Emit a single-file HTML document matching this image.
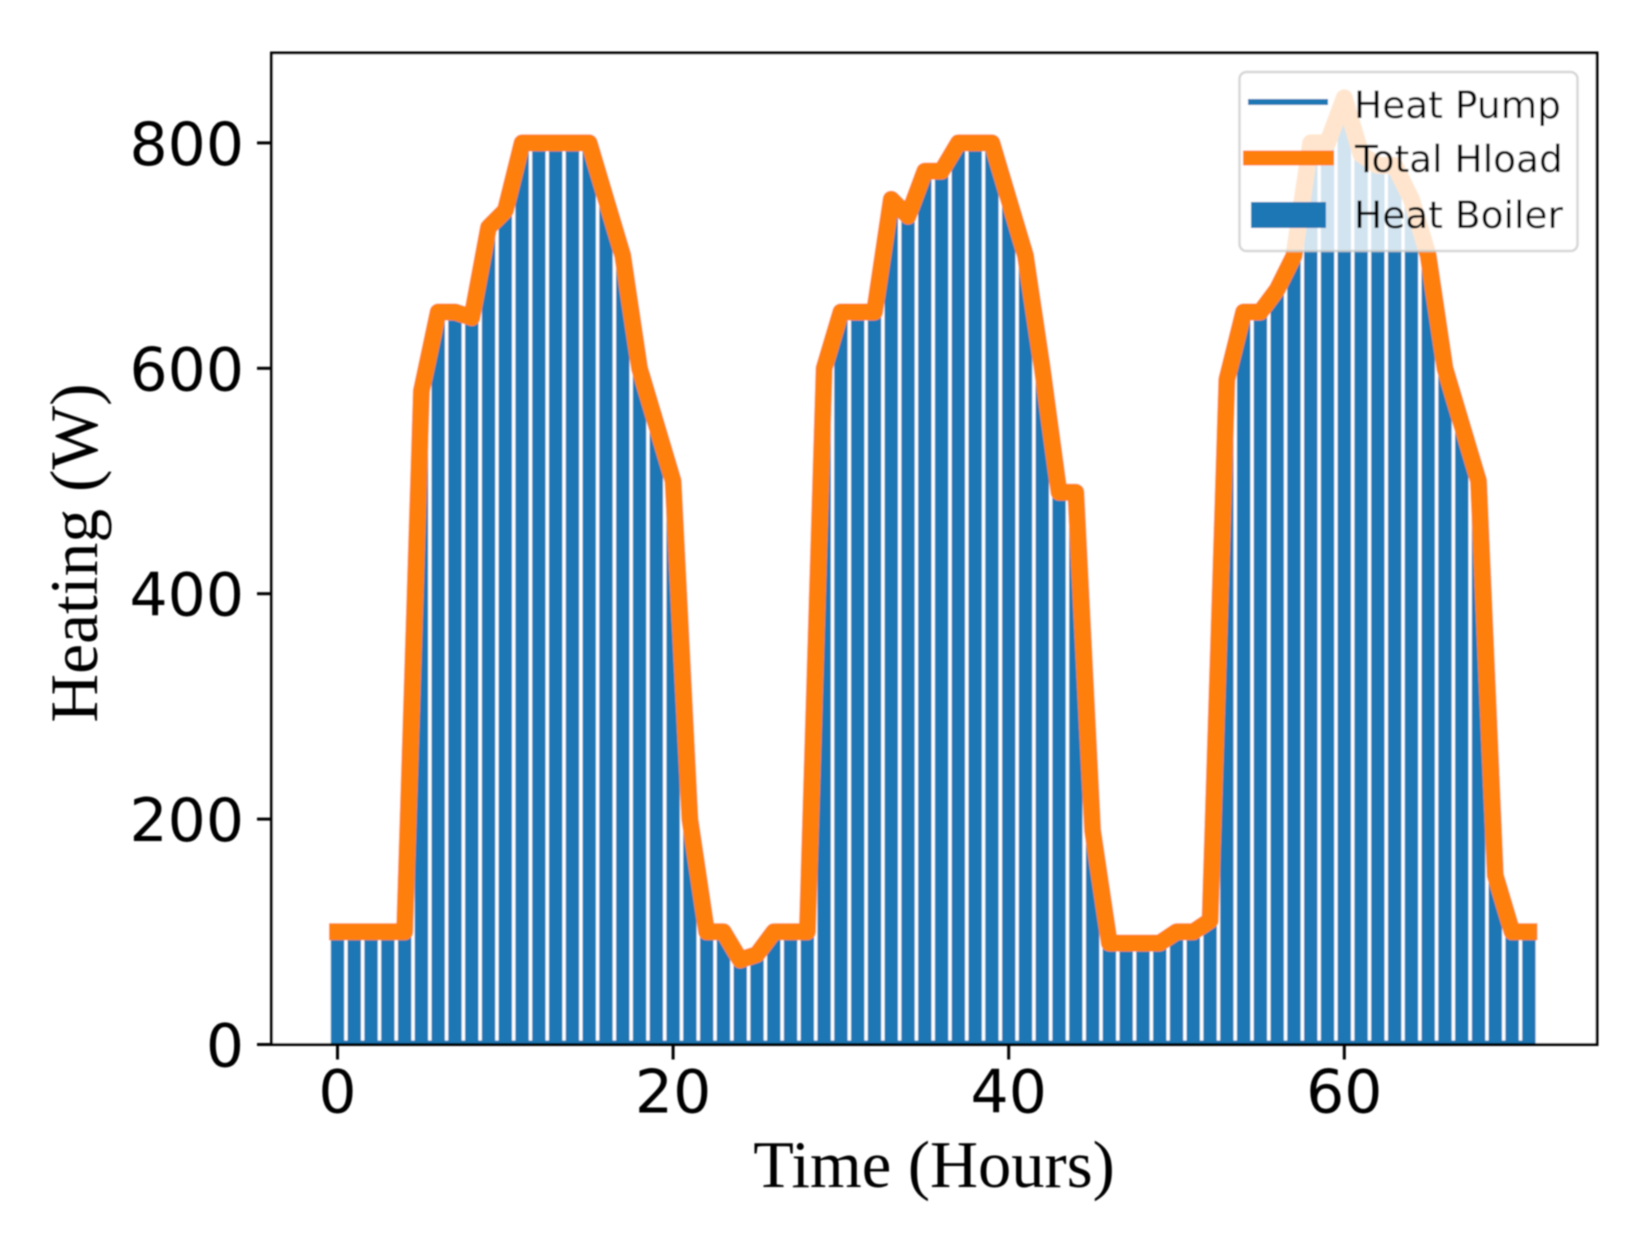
<!DOCTYPE html>
<html lang="en">
<head>
<meta charset="utf-8">
<title>Heating over time</title>
<style>
html,body{margin:0;padding:0;background:#fff;width:1637px;height:1239px;overflow:hidden}
svg{display:block}
.tick{font-family:"DejaVu Sans",sans-serif;font-size:60px;fill:#000}
.legend-text{font-family:"DejaVu Sans",sans-serif;font-size:37.5px;fill:#000}
.axis-title{font-family:"Liberation Serif",serif;fill:#000}
</style>
</head>
<body>
<svg id="chart" xmlns="http://www.w3.org/2000/svg" width="1637" height="1239" viewBox="0 0 1637 1239">
  <defs>
    <filter id="soft" x="-2%" y="-2%" width="104%" height="104%"><feGaussianBlur stdDeviation="0.8"/></filter>
    <clipPath id="plot-clip"><rect x="271.500" y="53" width="1325.500" height="991.500"/></clipPath>
  </defs>
  <g filter="url(#soft)">
    <rect x="271.500" y="53" width="1325.500" height="991.500" fill="#fff"/>
    <g id="bars"></g>
    <g clip-path="url(#plot-clip)">
      <path id="pump-line" fill="none" stroke="#1f77b4" stroke-width="8" stroke-linecap="square" stroke-linejoin="round"/>
      <path id="load-line" fill="none" stroke="#ff7f0e" stroke-width="17" stroke-linecap="square" stroke-linejoin="round"/>
    </g>
    <g id="ticks"></g>
    <rect x="271.500" y="53" width="1325.500" height="991.500" fill="none" stroke="#000" stroke-width="3"/>
    <g>
      <rect x="1239.500" y="72" width="338" height="179" rx="7" fill="#fff" fill-opacity="0.8" stroke="#ccc" stroke-opacity="0.8" stroke-width="2.500"/>
      <line x1="1248" y1="102" x2="1328" y2="102" stroke="#1f77b4" stroke-width="6"/>
      <text class="legend-text" x="1354" y="118">Heat Pump</text>
      <line x1="1243" y1="158" x2="1334" y2="158" stroke="#ff7f0e" stroke-width="15"/>
      <text class="legend-text" x="1355" y="172">Total Hload</text>
      <rect x="1251" y="202" width="75" height="26" fill="#1f77b4"/>
      <text class="legend-text" x="1354" y="228">Heat Boiler</text>
    </g>
    <text class="axis-title" style="font-size:66.5px" x="934" y="1187" text-anchor="middle">Time (Hours)</text>
    <text class="axis-title" style="font-size:67.5px" transform="translate(97 553) rotate(-90)" text-anchor="middle">Heating (W)</text>
  </g>
</svg>
<script>
const totalHload = [100,100,100,100,100,580,650,650,645,725,740,800,800,800,800,800,750,700,600,550,500,200,100,100,75,80,100,100,100,600,650,650,650,750,735,775,775,800,800,800,750,700,600,490,490,190,90,90,90,90,100,100,110,590,650,650,670,700,800,800,840,790,780,780,750,700,600,550,500,150,100,100];
const heatBoiler = [100,100,100,100,100,580,650,650,645,725,740,800,800,800,800,800,750,700,600,550,500,200,100,100,75,80,100,100,100,600,650,650,650,750,735,775,775,800,800,800,750,700,600,490,490,190,90,90,90,90,100,100,110,590,650,650,670,700,800,800,840,790,780,780,750,700,600,550,500,150,100,100];
const heatPump = [0,0,0,0,0,0,0,0,0,0,0,0,0,0,0,0,0,0,0,0,0,0,0,0,0,0,0,0,0,0,0,0,0,0,0,0,0,0,0,0,0,0,0,0,0,0,0,0,0,0,0,0,0,0,0,0,0,0,0,0,0,0,0,0,0,0,0,0,0,0,0,0];
const xTickValues = [0,20,40,60];
const yTickValues = [0,200,400,600,800];

const SVG_NS = 'http://www.w3.org/2000/svg';
const xScale = function (h) { return 337.5 + h * 16.78; };
const yScale = function (v) { return 1044.5 - v * 1.127; };
const barWidth = 0.8;

const barsGroup = document.getElementById('bars');
heatBoiler.forEach(function (v, h) {
  const bar = document.createElementNS(SVG_NS, 'rect');
  
  
  bar.setAttribute('x', xScale(h - barWidth / 2));
  bar.setAttribute('y', yScale(v));
  bar.setAttribute('width', xScale(barWidth) - xScale(0));
  bar.setAttribute('height', yScale(0) - yScale(v));
  bar.setAttribute('fill', '#1f77b4');
  barsGroup.appendChild(bar);
});

function linePath(values) {
  return values.map(function (v, h) {
    return (h === 0 ? 'M' : 'L') + xScale(h) + ' ' + yScale(v);
  }).join(' ');
}
document.getElementById('pump-line').setAttribute('d', linePath(heatPump));
document.getElementById('load-line').setAttribute('d', linePath(totalHload));

const ticksGroup = document.getElementById('ticks');
xTickValues.forEach(function (t) {
  const mark = document.createElementNS(SVG_NS, 'line');
  
  
  mark.setAttribute('x1', xScale(t));
  mark.setAttribute('x2', xScale(t));
  mark.setAttribute('y1', yScale(0));
  mark.setAttribute('y2', yScale(0) + 15);
  mark.setAttribute('stroke', '#000');
  mark.setAttribute('stroke-width', 3);
  ticksGroup.appendChild(mark);
  const label = document.createElementNS(SVG_NS, 'text');
  
  
  label.setAttribute('class', 'tick');
  label.setAttribute('x', xScale(t));
  label.setAttribute('y', yScale(0) + 68);
  label.setAttribute('text-anchor', 'middle');
  label.textContent = t;
  ticksGroup.appendChild(label);
});
yTickValues.forEach(function (t) {
  const mark = document.createElementNS(SVG_NS, 'line');
  
  
  mark.setAttribute('x1', 257);
  mark.setAttribute('x2', 272);
  mark.setAttribute('y1', yScale(t));
  mark.setAttribute('y2', yScale(t));
  mark.setAttribute('stroke', '#000');
  mark.setAttribute('stroke-width', 3);
  ticksGroup.appendChild(mark);
  const label = document.createElementNS(SVG_NS, 'text');
  
  
  label.setAttribute('class', 'tick');
  label.setAttribute('x', 244);
  label.setAttribute('y', yScale(t) + 22);
  label.setAttribute('text-anchor', 'end');
  label.textContent = t;
  ticksGroup.appendChild(label);
});
</script>
</body>
</html>
